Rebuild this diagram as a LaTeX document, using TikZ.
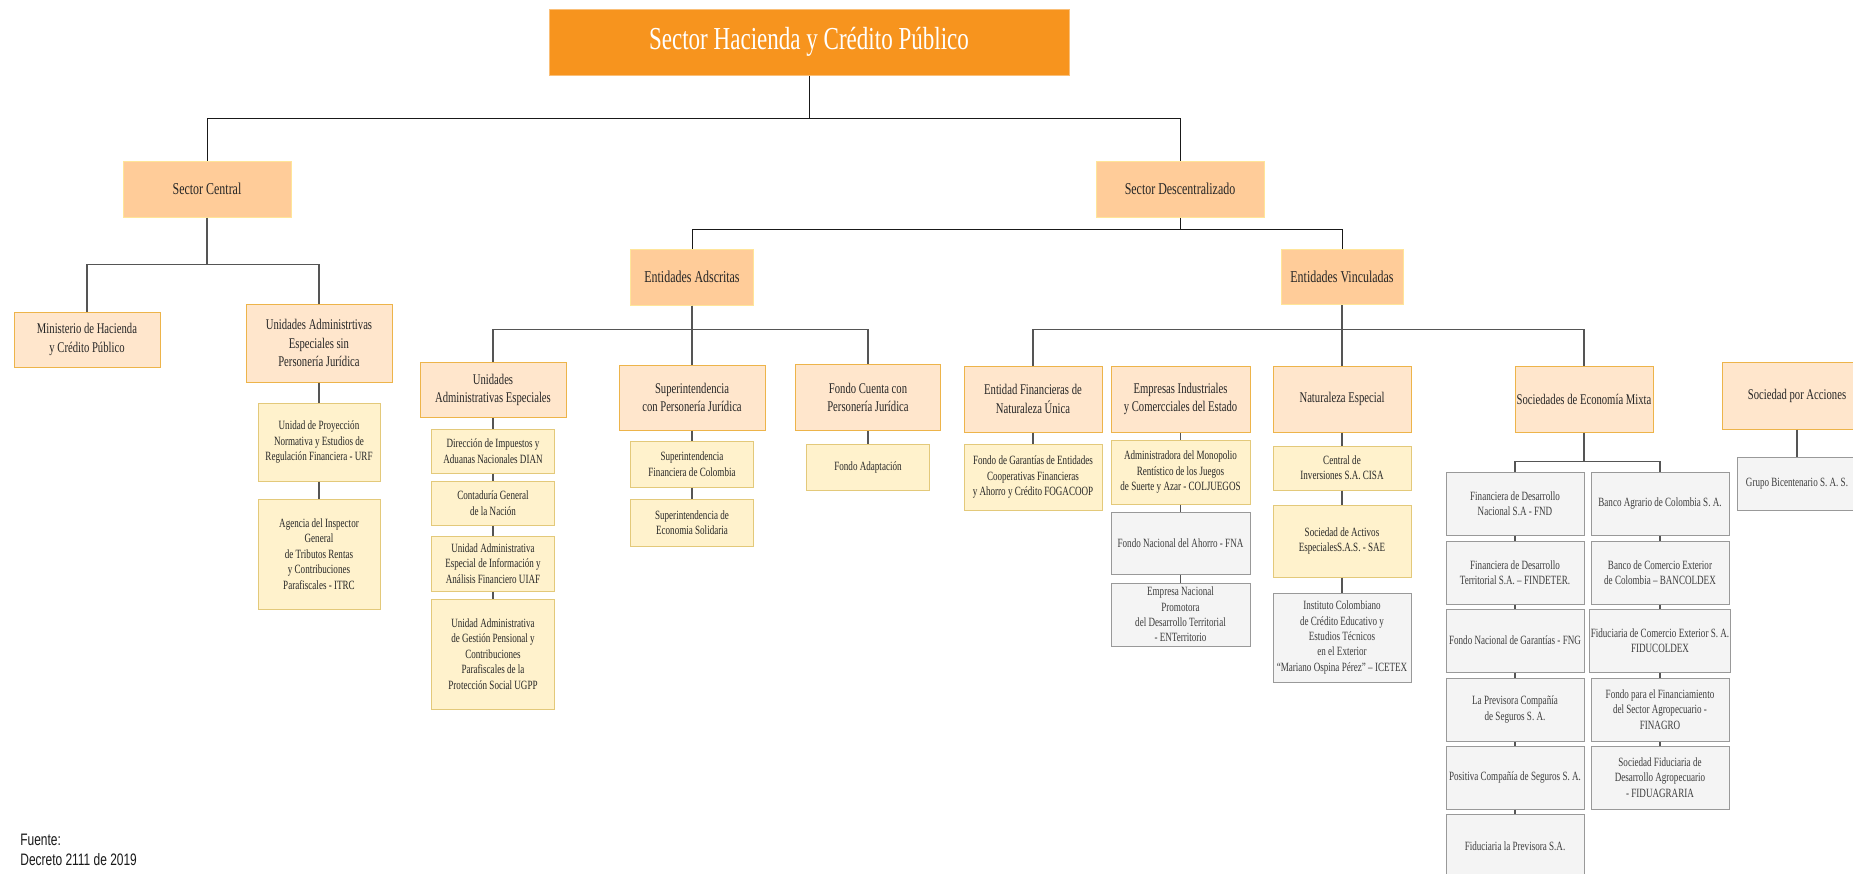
\documentclass[tikz,border=0pt]{standalone}
\usepackage{fontspec}
\setmainfont{Liberation Serif}[FakeStretch=0.72]
\newfontfamily\fuentefont{Liberation Sans}[FakeStretch=0.72]
\usepackage{xcolor}

\definecolor{titulo}{HTML}{F7941E}
\definecolor{sector}{HTML}{FFCC99}
\definecolor{sectorborde}{HTML}{FFE599}
\definecolor{grupo}{HTML}{FFE6CC}
\definecolor{grupoborde}{HTML}{EDB44A}
\definecolor{entidad}{HTML}{FFF2CC}
\definecolor{entidadborde}{HTML}{E3C97A}
\definecolor{otra}{HTML}{F4F4F4}
\definecolor{otraborde}{HTML}{999999}
\definecolor{texto}{HTML}{262626}
\definecolor{linea}{HTML}{555555}

\tikzset{
        caja/.style={rectangle, inner sep=0.5pt, align=center, text=texto, line width=0.5pt},
        titulobox/.style={caja, fill=titulo, draw=titulo!60, text=white, font=\fontsize{16}{19}\selectfont},
        sectorbox/.style={caja, fill=sector, draw=sectorborde, font=\fontsize{8.3}{10}\selectfont},
        grupobox/.style={caja, fill=grupo, draw=grupoborde, font=\fontsize{7.4}{9.4}\selectfont},
        entidadbox/.style={caja, fill=entidad, draw=entidadborde, font=\fontsize{6.3}{7.7}\selectfont},
        otrabox/.style={caja, fill=otra, draw=otraborde, text=texto!90, font=\fontsize{6.3}{7.7}\selectfont},
        linea1/.style={draw=black!90, line width=0.5pt},
        linea2/.style={draw=linea, line width=0.55pt}
}

\begin{document}
\begin{tikzpicture}[x=0.5pt,y=-0.5pt]

        \useasboundingbox (0,0) rectangle (1853,873);
        \clip (0,0) rectangle (1853,873);

        \node[titulobox, minimum width=260pt, minimum height=33pt] (titulo) at (809,42) {Sector Hacienda y Crédito Público};

        \node[sectorbox, minimum width=84pt, minimum height=28pt] (sc) at (207,189) {Sector Central};
        \node[sectorbox, minimum width=84pt, minimum height=28pt] (sd) at (1180,189) {Sector Descentralizado};

        \draw[linea1] (titulo.south) -- ++(0,43) -| (sc.north);
        \draw[linea1] (titulo.south) ++(0,43) -| (sd.north);

        % sector central
        \node[grupobox, minimum width=73pt, minimum height=27.5pt] (min) at (87,339.5) {Ministerio de Hacienda\\y Crédito Público};
        \node[grupobox, minimum width=73pt, minimum height=39pt] (uaesp) at (319,343) {Unidades Administrtivas\\Especiales sin\\Personería Jurídica};

        \draw[linea2] (sc.south) -- ++(0,47) -| (min.north);
        \draw[linea2] (sc.south) ++(0,47) -| (uaesp.north);

        \node[entidadbox, minimum width=61pt, minimum height=39pt] (urf) at (319,442) {Unidad de Proyección\\Normativa y Estudios de\\Regulación Financiera - URF};
        \node[entidadbox, minimum width=61pt, minimum height=55pt] (itrc) at (319,554) {Agencia del Inspector\\General\\de Tributos Rentas\\y Contribuciones\\Parafiscales - ITRC};

        \draw[linea2] (uaesp.south) -- (urf.north);
        \draw[linea2] (urf.south) -- (itrc.north);

        % sector descentralizado
        \node[sectorbox, minimum width=61.5pt, minimum height=28pt] (ea) at (692,277) {Entidades Adscritas};
        \node[sectorbox, minimum width=61pt, minimum height=27.5pt] (ev) at (1342,277) {Entidades Vinculadas};

        \draw[linea1] (sd.south) -- ++(0,12) -| (ea.north);
        \draw[linea1] (sd.south) ++(0,12) -| (ev.north);

        % entidades adscritas
        \node[grupobox, minimum width=73pt, minimum height=27.5pt] (uae) at (493,390) {Unidades\\Administrativas Especiales};
        \node[grupobox, minimum width=73pt, minimum height=32.5pt] (sup) at (692,397.5) {Superintendencia\\con Personería Jurídica};
        \node[grupobox, minimum width=72.5pt, minimum height=33pt] (fcpj) at (868,397.5) {Fondo Cuenta con\\Personería Jurídica};

        \draw[linea2] (ea.south) -- ++(0,24) -| (uae.north);
        \draw[linea2] (ea.south) ++(0,24) -| (fcpj.north);
        \draw[linea2] (ea.south) -- (sup.north);

        \node[entidadbox, minimum width=61.5pt, minimum height=22pt] (dian) at (493,451) {Dirección de Impuestos y\\Aduanas Nacionales DIAN};
        \node[entidadbox, minimum width=61.5pt, minimum height=22pt] (cgn) at (493,503) {Contaduría General\\de la Nación};
        \node[entidadbox, minimum width=61.5pt, minimum height=27.5pt] (uiaf) at (493,563.5) {Unidad Administrativa\\Especial de Información y\\Análisis Financiero UIAF};
        \node[entidadbox, minimum width=61.5pt, minimum height=55pt] (ugpp) at (493,654) {Unidad Administrativa\\de Gestión Pensional y\\Contribuciones\\Parafiscales de la\\Protección Social UGPP};

        \draw[linea2] (uae.south) -- (dian.north);
        \draw[linea2] (dian.south) -- (cgn.north);
        \draw[linea2] (cgn.south) -- (uiaf.north);
        \draw[linea2] (uiaf.south) -- (ugpp.north);

        \node[entidadbox, minimum width=61.5pt, minimum height=23pt] (sfc) at (692,464) {Superintendencia\\Financiera de Colombia};
        \node[entidadbox, minimum width=61.5pt, minimum height=23.5pt] (ses) at (692,522.5) {Superintendencia de\\Economia Solidaria};

        \draw[linea2] (sup.south) -- (sfc.north);
        \draw[linea2] (sfc.south) -- (ses.north);

        \node[entidadbox, minimum width=61.5pt, minimum height=23pt] (fa) at (868,467) {Fondo Adaptación};

        \draw[linea2] (fcpj.south) -- (fa.north);

        % entidades vinculadas
        \node[grupobox, minimum width=69pt, minimum height=33pt] (efnu) at (1033,399) {Entidad Financieras de\\Naturaleza Única};
        \node[grupobox, minimum width=69.5pt, minimum height=33pt] (eice) at (1180.5,399) {Empresas Industriales\\y Comercciales del Estado};
        \node[grupobox, minimum width=69pt, minimum height=33pt] (nesp) at (1342,399) {Naturaleza Especial};
        \node[grupobox, minimum width=69pt, minimum height=33pt] (sem) at (1584,399) {Sociedades de Economía Mixta};
        \node[grupobox, minimum width=75pt, minimum height=33.5pt] (spa) at (1797,395.5) {Sociedad por Acciones};

        \draw[linea2] (ev.south) -- ++(0,24.5) -| (efnu.north);
        \draw[linea2] (ev.south) ++(0,24.5) -| (sem.north);
        \draw[linea2] (ev.south) -- (nesp.north);

        \node[entidadbox, minimum width=69pt, minimum height=33pt] (fogacoop) at (1033,477) {Fondo de Garantías de Entidades\\Cooperativas Financieras\\y Ahorro y Crédito FOGACOOP};

        \draw[linea2] (efnu.south) -- (fogacoop.north);

        \node[entidadbox, minimum width=69.5pt, minimum height=32pt] (colj) at (1180.5,472) {Administradora del Monopolio\\Rentístico de los Juegos\\de Suerte y Azar - COLJUEGOS};
        \node[otrabox, minimum width=69.5pt, minimum height=31pt] (fna) at (1180.5,543) {Fondo Nacional del Ahorro - FNA};
        \node[otrabox, minimum width=69.5pt, minimum height=31.5pt] (ent) at (1180.5,614.5) {Empresa Nacional\\Promotora\\del Desarrollo Territorial\\- ENTerritorio};

        \draw[linea2] (eice.south) -- (colj.north);
        \draw[linea2] (colj.south) -- (fna.north);
        \draw[linea2] (fna.south) -- (ent.north);

        \node[entidadbox, minimum width=69pt, minimum height=22pt] (cisa) at (1342,468) {Central de\\Inversiones S.A. CISA};
        \node[entidadbox, minimum width=69pt, minimum height=36pt] (sae) at (1342,541) {Sociedad de Activos\\EspecialesS.A.S. - SAE};
        \node[otrabox, minimum width=69pt, minimum height=44.5pt] (icetex) at (1342,637.5) {Instituto Colombiano\\de Crédito Educativo y\\Estudios Técnicos\\en el Exterior\\“Mariano Ospina Pérez” – ICETEX};

        \draw[linea2] (nesp.south) -- (cisa.north);
        \draw[linea2] (cisa.south) -- (sae.north);
        \draw[linea2] (sae.south) -- (icetex.north);

        % sociedades de economia mixta
        \node[otrabox, minimum width=69pt, minimum height=31.5pt] (fnd) at (1515,503.5) {Financiera de Desarrollo\\Nacional S.A - FND};
        \node[otrabox, minimum width=69pt, minimum height=31.5pt] (findeter) at (1515,572.5) {Financiera de Desarrollo\\Territorial S.A. – FINDETER.};
        \node[otrabox, minimum width=69pt, minimum height=31.5pt] (fng) at (1515,640.5) {Fondo Nacional de Garantías - FNG};
        \node[otrabox, minimum width=69pt, minimum height=31.5pt] (previsora) at (1515,709.5) {La Previsora Compañía\\de Seguros S. A.};
        \node[otrabox, minimum width=69pt, minimum height=31.5pt] (positiva) at (1515,777.5) {Positiva Compañía de Seguros S. A.};
        \node[otrabox, minimum width=69pt, minimum height=32.5pt] (fiduprev) at (1515,846.5) {Fiduciaria la Previsora S.A.};

        \node[otrabox, minimum width=69pt, minimum height=31.5pt] (bagrario) at (1660,503.5) {Banco Agrario de Colombia S. A.};
        \node[otrabox, minimum width=69pt, minimum height=31.5pt] (bancoldex) at (1660,572.5) {Banco de Comercio Exterior\\de Colombia – BANCOLDEX};
        \node[otrabox, minimum width=69pt, minimum height=31.5pt] (fiducoldex) at (1660,640.5) {Fiduciaria de Comercio Exterior S. A.\\FIDUCOLDEX};
        \node[otrabox, minimum width=69pt, minimum height=31.5pt] (finagro) at (1660,709.5) {Fondo para el Financiamiento\\del Sector Agropecuario -\\FINAGRO};
        \node[otrabox, minimum width=69pt, minimum height=31.5pt] (fiduagraria) at (1660,777.5) {Sociedad Fiduciaria de\\Desarrollo Agropecuario\\- FIDUAGRARIA};

        \draw[linea2] (sem.south) -- ++(0,29) -| (fnd.north);
        \draw[linea2] (sem.south) ++(0,29) -| (bagrario.north);

        \draw[linea2] (fnd.south) -- (findeter.north);
        \draw[linea2] (findeter.south) -- (fng.north);
        \draw[linea2] (fng.south) -- (previsora.north);
        \draw[linea2] (previsora.south) -- (positiva.north);
        \draw[linea2] (positiva.south) -- (fiduprev.north);

        \draw[linea2] (bagrario.south) -- (bancoldex.north);
        \draw[linea2] (bancoldex.south) -- (fiducoldex.north);
        \draw[linea2] (fiducoldex.south) -- (finagro.north);
        \draw[linea2] (finagro.south) -- (fiduagraria.north);

        % sociedad por acciones
        \node[otrabox, minimum width=60pt, minimum height=26.5pt] (bicentenario) at (1797,483.5) {Grupo Bicentenario S. A. S.};

        \draw[linea2] (spa.south) -- (bicentenario.north);

        \node[anchor=north west, align=left, inner sep=0pt, text=black!90, font=\fuentefont\fontsize{8.3}{10}\selectfont] (fuente) at (20,834) {Fuente:\\Decreto 2111 de 2019};

\end{tikzpicture}
\end{document}
